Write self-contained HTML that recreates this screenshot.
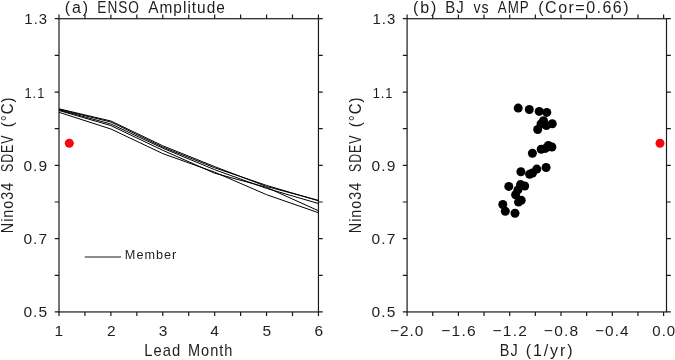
<!DOCTYPE html>
<html lang="en"><head><meta charset="utf-8"><title>ENSO Amplitude</title>
<style>
html,body{margin:0;padding:0;background:#fff;}
body{width:675px;height:360px;overflow:hidden;}
svg{display:block;}
text{font-family:"Liberation Sans", "DejaVu Sans", sans-serif;fill:#1e1e1e;white-space:pre;}
.ax{stroke:#1a1a1a;stroke-width:1.2;fill:none;}
.ln{stroke:#000;stroke-width:1.0;fill:none;stroke-linejoin:round;}
</style></head><body>
<svg width="675" height="360" viewBox="0 0 675 360">
<rect width="675" height="360" fill="#fff"/>
<rect class="ax" x="59.00" y="18.72" width="259.45" height="293.23"/>
<path class="ax" d="M54.70 311.95H59.00M318.45 311.95H322.75M54.70 275.30H59.00M318.45 275.30H322.75M54.70 238.64H59.00M318.45 238.64H322.75M54.70 201.99H59.00M318.45 201.99H322.75M54.70 165.34H59.00M318.45 165.34H322.75M54.70 128.68H59.00M318.45 128.68H322.75M54.70 92.03H59.00M318.45 92.03H322.75M54.70 55.37H59.00M318.45 55.37H322.75M54.70 18.72H59.00M318.45 18.72H322.75M59.00 14.42V18.72M59.00 311.95V316.05M84.94 14.42V18.72M84.94 311.95V316.05M110.89 14.42V18.72M110.89 311.95V316.05M136.83 14.42V18.72M136.83 311.95V316.05M162.78 14.42V18.72M162.78 311.95V316.05M188.72 14.42V18.72M188.72 311.95V316.05M214.67 14.42V18.72M214.67 311.95V316.05M240.61 14.42V18.72M240.61 311.95V316.05M266.56 14.42V18.72M266.56 311.95V316.05M292.50 14.42V18.72M292.50 311.95V316.05M318.45 14.42V18.72M318.45 311.95V316.05"/>
<rect class="ax" x="407.10" y="18.72" width="259.40" height="293.23"/>
<path class="ax" d="M402.80 311.95H407.10M666.50 311.95H670.80M402.80 275.30H407.10M666.50 275.30H670.80M402.80 238.64H407.10M666.50 238.64H670.80M402.80 201.99H407.10M666.50 201.99H670.80M402.80 165.34H407.10M666.50 165.34H670.80M402.80 128.68H407.10M666.50 128.68H670.80M402.80 92.03H407.10M666.50 92.03H670.80M402.80 55.37H407.10M666.50 55.37H670.80M402.80 18.72H407.10M666.50 18.72H670.80M407.10 14.42V18.72M407.10 311.95V316.05M432.75 14.42V18.72M432.75 311.95V316.05M458.40 14.42V18.72M458.40 311.95V316.05M484.05 14.42V18.72M484.05 311.95V316.05M509.70 14.42V18.72M509.70 311.95V316.05M535.35 14.42V18.72M535.35 311.95V316.05M561.00 14.42V18.72M561.00 311.95V316.05M586.65 14.42V18.72M586.65 311.95V316.05M612.30 14.42V18.72M612.30 311.95V316.05M637.95 14.42V18.72M637.95 311.95V316.05M663.60 14.42V18.72M663.60 311.95V316.05"/>
<text transform="translate(64.80 13.30)" font-size="16" letter-spacing="1.837">(a)</text>
<text transform="translate(97.35 13.30) scale(0.8520 1)" font-size="16" letter-spacing="1.174">ENSO</text>
<text transform="translate(148.20 13.30) scale(0.9656 1)" font-size="16" letter-spacing="1.036">Amplitude</text>
<text transform="translate(412.90 13.30)" font-size="16" letter-spacing="1.987">(b)</text>
<text transform="translate(445.26 13.30) scale(0.9357 1)" font-size="16" letter-spacing="1.069">BJ</text>
<text transform="translate(473.40 13.30) scale(0.8875 1)" font-size="16" letter-spacing="1.127">vs</text>
<text transform="translate(497.80 13.30) scale(0.8353 1)" font-size="16" letter-spacing="1.197">AMP</text>
<text transform="translate(538.30 13.30)" font-size="16" letter-spacing="1.478">(Cor=0.66)</text>
<text transform="translate(144.28 356.30) scale(0.9230 1)" font-size="16" letter-spacing="1.083">Lead</text>
<text transform="translate(187.99 356.30) scale(0.9091 1)" font-size="16" letter-spacing="1.100">Month</text>
<text transform="translate(499.80 356.30) scale(0.8997 1)" font-size="16" letter-spacing="1.111">BJ</text>
<text transform="translate(525.70 356.30)" font-size="16" letter-spacing="1.900">(1/yr)</text>
<text transform="translate(124.86 258.70) scale(0.9385 1)" font-size="13.5" letter-spacing="1.066">Member</text>
<text transform="translate(12.70 233.20) rotate(-90) scale(0.8955 1)" font-size="16" letter-spacing="1.117">Nino34</text>
<text transform="translate(12.70 172.00) rotate(-90) scale(0.7677 1)" font-size="16" letter-spacing="1.303">SDEV</text>
<text transform="translate(12.70 127.24) rotate(-90) scale(0.9384 1)" font-size="16" letter-spacing="1.066">(°C)</text>
<text transform="translate(360.90 233.20) rotate(-90) scale(0.8955 1)" font-size="16" letter-spacing="1.117">Nino34</text>
<text transform="translate(360.90 172.00) rotate(-90) scale(0.7677 1)" font-size="16" letter-spacing="1.303">SDEV</text>
<text transform="translate(360.90 127.24) rotate(-90) scale(0.9384 1)" font-size="16" letter-spacing="1.066">(°C)</text>
<text transform="translate(24.34 24.22) scale(0.9635 1)" font-size="15.5" letter-spacing="1.038">1.3</text>
<text transform="translate(24.47 97.53) scale(0.8280 1)" font-size="15.5" letter-spacing="1.208">1.1</text>
<text transform="translate(23.40 170.84)" font-size="15.5" letter-spacing="1.087">0.9</text>
<text transform="translate(23.40 244.14)" font-size="15.5" letter-spacing="1.087">0.7</text>
<text transform="translate(23.40 317.45)" font-size="15.5" letter-spacing="1.087">0.5</text>
<text transform="translate(372.54 24.22) scale(0.9635 1)" font-size="15.5" letter-spacing="1.038">1.3</text>
<text transform="translate(372.67 97.53) scale(0.8280 1)" font-size="15.5" letter-spacing="1.208">1.1</text>
<text transform="translate(371.60 170.84)" font-size="15.5" letter-spacing="1.087">0.9</text>
<text transform="translate(371.60 244.14)" font-size="15.5" letter-spacing="1.087">0.7</text>
<text transform="translate(371.60 317.45)" font-size="15.5" letter-spacing="1.087">0.5</text>
<text x="54.50" y="336.00" font-size="15.5">1</text>
<text x="106.89" y="336.00" font-size="15.5">2</text>
<text x="158.78" y="336.00" font-size="15.5">3</text>
<text x="210.17" y="336.00" font-size="15.5">4</text>
<text x="262.56" y="336.00" font-size="15.5">5</text>
<text x="314.45" y="336.00" font-size="15.5">6</text>
<text transform="translate(389.90 336.00) scale(0.9942 1)" font-size="15.5" letter-spacing="1.006">−2.0</text>
<text transform="translate(441.20 336.00)" font-size="15.5" letter-spacing="1.274">−1.6</text>
<text transform="translate(492.50 336.00)" font-size="15.5" letter-spacing="1.274">−1.2</text>
<text transform="translate(543.80 336.00)" font-size="15.5" letter-spacing="1.274">−0.8</text>
<text transform="translate(595.10 336.00) scale(0.9942 1)" font-size="15.5" letter-spacing="1.006">−0.4</text>
<text transform="translate(652.30 336.00) scale(0.9669 1)" font-size="15.5" letter-spacing="1.034">0.0</text>
<polyline class="ln" points="59.0,108.8 110.9,121.0 162.8,145.8 214.7,166.6 266.6,186.5 318.4,200.3"/>
<polyline class="ln" points="59.0,109.4 110.9,122.0 162.8,147.1 214.7,167.8 266.6,185.4 318.4,200.8"/>
<polyline class="ln" points="59.0,109.9 110.9,124.0 162.8,148.2 214.7,169.7 266.6,188.4 318.4,203.5"/>
<polyline class="ln" points="59.0,110.5 110.9,125.6 162.8,150.3 214.7,173.2 266.6,187.4 318.4,210.7"/>
<polyline class="ln" points="59.0,112.3 110.9,129.0 162.8,153.6 214.7,172.2 266.6,194.7 318.4,212.7"/>
<path d="M84.8 257H121.1" stroke="#1a1a1a" stroke-width="1.2" fill="none"/>
<circle cx="69.3" cy="143.3" r="4.5" fill="#f8060f"/>
<circle cx="660" cy="143.2" r="4.5" fill="#f8060f"/>
<circle cx="518.2" cy="108.1" r="4.5" fill="#000"/>
<circle cx="529.3" cy="109.5" r="4.5" fill="#000"/>
<circle cx="539.2" cy="111.4" r="4.5" fill="#000"/>
<circle cx="546.8" cy="112.4" r="4.5" fill="#000"/>
<circle cx="543.5" cy="120.7" r="4.5" fill="#000"/>
<circle cx="552.3" cy="123.7" r="4.5" fill="#000"/>
<circle cx="546.4" cy="125.6" r="4.5" fill="#000"/>
<circle cx="541" cy="124" r="4.5" fill="#000"/>
<circle cx="537.7" cy="129.5" r="4.5" fill="#000"/>
<circle cx="548.4" cy="145.4" r="4.5" fill="#000"/>
<circle cx="551.9" cy="147" r="4.5" fill="#000"/>
<circle cx="545.4" cy="148.4" r="4.5" fill="#000"/>
<circle cx="541.2" cy="149.3" r="4.5" fill="#000"/>
<circle cx="532.4" cy="153.2" r="4.5" fill="#000"/>
<circle cx="546.1" cy="167.5" r="4.5" fill="#000"/>
<circle cx="536.8" cy="169.1" r="4.5" fill="#000"/>
<circle cx="532.5" cy="173" r="4.5" fill="#000"/>
<circle cx="529.6" cy="174.3" r="4.5" fill="#000"/>
<circle cx="520.9" cy="171.8" r="4.5" fill="#000"/>
<circle cx="508.8" cy="186.4" r="4.5" fill="#000"/>
<circle cx="520.5" cy="184.6" r="4.5" fill="#000"/>
<circle cx="524.7" cy="186" r="4.5" fill="#000"/>
<circle cx="517.9" cy="189.9" r="4.5" fill="#000"/>
<circle cx="515.6" cy="194.7" r="4.5" fill="#000"/>
<circle cx="521.2" cy="200.2" r="4.5" fill="#000"/>
<circle cx="518.5" cy="202.1" r="4.5" fill="#000"/>
<circle cx="502.8" cy="204.5" r="4.5" fill="#000"/>
<circle cx="505.3" cy="211.3" r="4.5" fill="#000"/>
<circle cx="515" cy="213.2" r="4.5" fill="#000"/>
</svg>
</body></html>
